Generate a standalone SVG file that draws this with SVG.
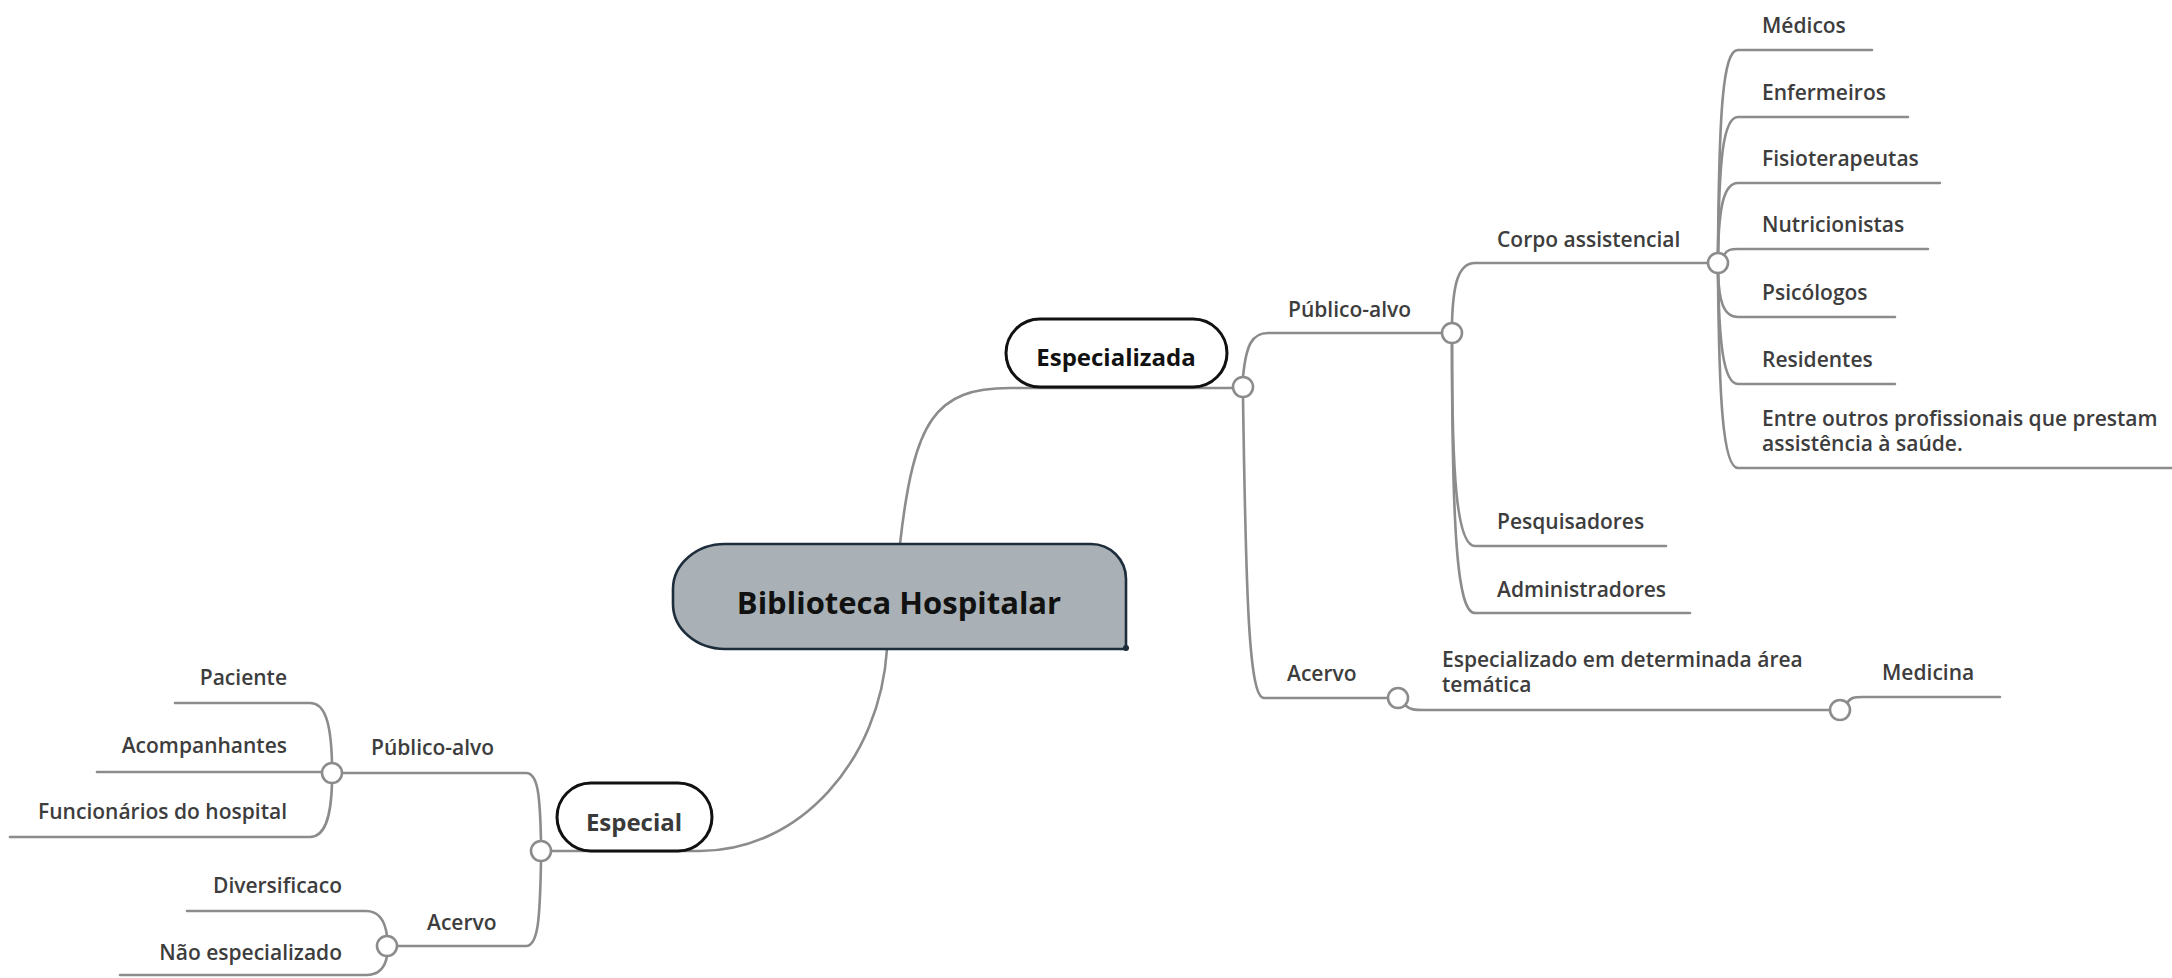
<svg xmlns="http://www.w3.org/2000/svg" width="2172" height="978" viewBox="0 0 2172 978">
<style>
.bg{fill:#ffffff}
.ln{fill:none;stroke:#8c8c8c;stroke-width:2.6;stroke-linecap:round}
.dot{fill:#ffffff;stroke:#8c8c8c;stroke-width:2.6}
.lbl{font-family:"Open Sans","Liberation Sans",sans-serif;font-weight:600;font-size:21px;fill:#3d3d3d}
.end{text-anchor:end}
.pill{fill:#ffffff;stroke:#111111;stroke-width:3}
.ttl{font-family:"Open Sans","Liberation Sans",sans-serif;font-weight:700;text-anchor:middle}
</style>
<rect class="bg" x="0" y="0" width="2172" height="978"/>
<g id="connectors">
  <path class="ln" d="M 900 544 C 914 420, 935 388, 1010 388 L 1233 388"/>
  <path class="ln" d="M 887 649 C 880 760, 800 851, 700 851 L 551 851"/>
  <path class="ln" d="M 1243 377 C 1246 345, 1252 333, 1268 333 L 1442 333"/>
  <path class="ln" d="M 1243 397 C 1246 600, 1249 698, 1264 698 L 1388 698"/>
  <path class="ln" d="M 1452 323 C 1453 285, 1458 263, 1475 263 L 1708 263"/>
  <path class="ln" d="M 1452 343 C 1452 470, 1456 546, 1475 546 L 1666 546"/>
  <path class="ln" d="M 1452 343 C 1452 540, 1458 613, 1475 613 L 1690 613"/>
  <path class="ln" d="M 1405 705 C 1410 710, 1415 710, 1425 710 L 1830 710"/>
  <path class="ln" d="M 1847 703 C 1851 697, 1855 697, 1862 697 L 2000 697"/>
  <path class="ln" d="M 1718 253 C 1719 110, 1723 50, 1738 50 L 1872 50"/>
  <path class="ln" d="M 1718 253 C 1719 160, 1723 117, 1738 117 L 1908 117"/>
  <path class="ln" d="M 1718 253 C 1719 210, 1723 183, 1738 183 L 1940 183"/>
  <path class="ln" d="M 1724 255 C 1727 250, 1730 249, 1738 249 L 1928 249"/>
  <path class="ln" d="M 1718 273 C 1719 300, 1723 317, 1738 317 L 1895 317"/>
  <path class="ln" d="M 1718 273 C 1719 340, 1723 384, 1738 384 L 1895 384"/>
  <path class="ln" d="M 1718 273 C 1719 400, 1723 468, 1738 468 L 2172 468"/>
  <path class="ln" d="M 541 841 C 540 795, 538 773, 526 773 L 343 773"/>
  <path class="ln" d="M 541 861 C 540 920, 538 946, 526 946 L 398 946"/>
  <path class="ln" d="M 332 763 C 331 720, 324 703, 310 703 L 175 703"/>
  <path class="ln" d="M 321 772 L 97 772"/>
  <path class="ln" d="M 332 783 C 331 820, 324 837, 310 837 L 10 837"/>
  <path class="ln" d="M 387 936 C 385 920, 378 911, 366 911 L 187 911"/>
  <path class="ln" d="M 387 956 C 385 968, 378 975, 366 975 L 120 975"/>
  <circle class="dot" cx="1243" cy="387" r="10"/>
  <circle class="dot" cx="541" cy="851" r="10"/>
  <circle class="dot" cx="1452" cy="333" r="10"/>
  <circle class="dot" cx="1398" cy="698" r="10"/>
  <circle class="dot" cx="1718" cy="263" r="10"/>
  <circle class="dot" cx="1840" cy="710" r="10"/>
  <circle class="dot" cx="332" cy="773" r="10"/>
  <circle class="dot" cx="387" cy="946" r="10"/>
</g>
<g id="root">
  <path d="M 725 544 L 1091 544 A 35 35 0 0 1 1126 579 L 1126 649 L 725 649 A 52 45 0 0 1 673 604 L 673 589 A 52 45 0 0 1 725 544 Z" fill="#a9b1b6" stroke="#1e2d3b" stroke-width="2.6"/>
  <circle cx="1126" cy="648" r="3" fill="#1e2d3b"/>
  <text class="ttl" x="899" y="614" font-size="31" fill="#111111">Biblioteca Hospitalar</text>
</g>
<g id="especializada">
  <rect class="pill" x="1006" y="319" width="221" height="68" rx="34"/>
  <text class="ttl" x="1116" y="366" font-size="24" fill="#111111">Especializada</text>
</g>
<g id="especial">
  <rect class="pill" x="557" y="783" width="155" height="68" rx="34"/>
  <text class="ttl" x="634" y="831" font-size="24" fill="#3a3a3a">Especial</text>
</g>
<g id="publico-alvo-r"><text class="lbl" x="1288" y="317">Público-alvo</text></g>
<g id="acervo-r"><text class="lbl" x="1287" y="681">Acervo</text></g>
<g id="especializado-area"><text class="lbl" x="1442" y="667">Especializado em determinada área</text><text class="lbl" x="1442" y="692">temática</text></g>
<g id="medicina"><text class="lbl" x="1882" y="680">Medicina</text></g>
<g id="corpo"><text class="lbl" x="1497" y="247">Corpo assistencial</text></g>
<g id="pesquisadores"><text class="lbl" x="1497" y="529">Pesquisadores</text></g>
<g id="administradores"><text class="lbl" x="1497" y="597">Administradores</text></g>
<g id="medicos"><text class="lbl" x="1762" y="33">Médicos</text></g>
<g id="enfermeiros"><text class="lbl" x="1762" y="100">Enfermeiros</text></g>
<g id="fisioterapeutas"><text class="lbl" x="1762" y="166">Fisioterapeutas</text></g>
<g id="nutricionistas"><text class="lbl" x="1762" y="232">Nutricionistas</text></g>
<g id="psicologos"><text class="lbl" x="1762" y="300">Psicólogos</text></g>
<g id="residentes"><text class="lbl" x="1762" y="367">Residentes</text></g>
<g id="entre-outros"><text class="lbl" x="1762" y="426">Entre outros profissionais que prestam</text><text class="lbl" x="1762" y="451">assistência à saúde.</text></g>
<g id="publico-alvo-l"><text class="lbl" x="371" y="755">Público-alvo</text></g>
<g id="acervo-l"><text class="lbl" x="427" y="930">Acervo</text></g>
<g id="paciente"><text class="lbl end" x="287" y="685">Paciente</text></g>
<g id="acompanhantes"><text class="lbl end" x="287" y="753">Acompanhantes</text></g>
<g id="funcionarios"><text class="lbl end" x="287" y="819">Funcionários do hospital</text></g>
<g id="diversificaco"><text class="lbl end" x="342" y="893">Diversificaco</text></g>
<g id="nao-especializado"><text class="lbl end" x="342" y="960">Não especializado</text></g>
</svg>
